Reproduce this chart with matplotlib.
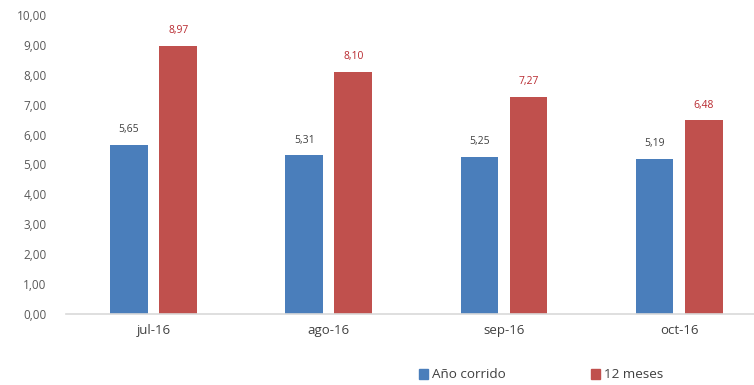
import matplotlib
matplotlib.use('Agg')

import numpy as np
import matplotlib.pyplot as plt
from matplotlib.patches import Patch

# === Data ===
months = ["jul-16", "ago-16", "sep-16", "oct-16"]
ano_corrido = [5.65, 5.31, 5.25, 5.19]
doce_meses = [8.97, 8.10, 7.27, 6.48]
y_ticks = [0, 1, 2, 3, 4, 5, 6, 7, 8, 9, 10]

plt.rcParams['font.family'] = ['Open Sans', 'DejaVu Sans']

blue = "#4A7EBB"
red = "#C0504D"

fig = plt.figure(figsize=(7.54, 3.85), dpi=100)
ax = fig.add_axes([66 / 754, 71 / 385, 688 / 754, 299 / 385])

x = np.arange(len(months))
w = 0.215
off = 0.14

ax.bar(x - off, ano_corrido, w, color=blue)
ax.bar(x + off, doce_meses, w, color=red)

def fmt(v):
    return f"{v:.2f}".replace(".", ",")

for xi, v in zip(x, ano_corrido):
    ax.annotate(fmt(v), (xi - off, v), xytext=(0, 7), textcoords="offset points",
                ha="center", va="bottom", fontsize=7.5, color="#404040")
for xi, v in zip(x, doce_meses):
    ax.annotate(fmt(v), (xi + off, v), xytext=(0, 7), textcoords="offset points",
                ha="center", va="bottom", fontsize=7.5, color="#B8292F")

# === Style ===
ax.set_xlim(-0.5, 3.427)
ax.set_ylim(0, 10)
ax.set_yticks(y_ticks)
ax.set_yticklabels([fmt(t) for t in y_ticks], fontsize=8.5, color="#595959")
ax.set_xticks(x)
ax.set_xticklabels(months, fontsize=9.5, color="#404040")
ax.tick_params(length=0)
ax.tick_params(axis="y", pad=14)
ax.tick_params(axis="x", pad=7)
for s in ["top", "right", "left"]:
    ax.spines[s].set_visible(False)
ax.spines["bottom"].set_color("#D9D9D9")
ax.spines["bottom"].set_linewidth(1.2)

handles = [Patch(color=blue, label="Año corrido"), Patch(color=red, label="12 meses")]
fig.legend(handles=handles, loc="center", bbox_to_anchor=(541 / 754, 1 - 375 / 385),
           ncol=2, frameon=False, fontsize=9.7, handlelength=0.7, handleheight=0.7,
           handletextpad=0.3, columnspacing=6.3, labelcolor="#404040")

plt.savefig("out.png", dpi=100)
